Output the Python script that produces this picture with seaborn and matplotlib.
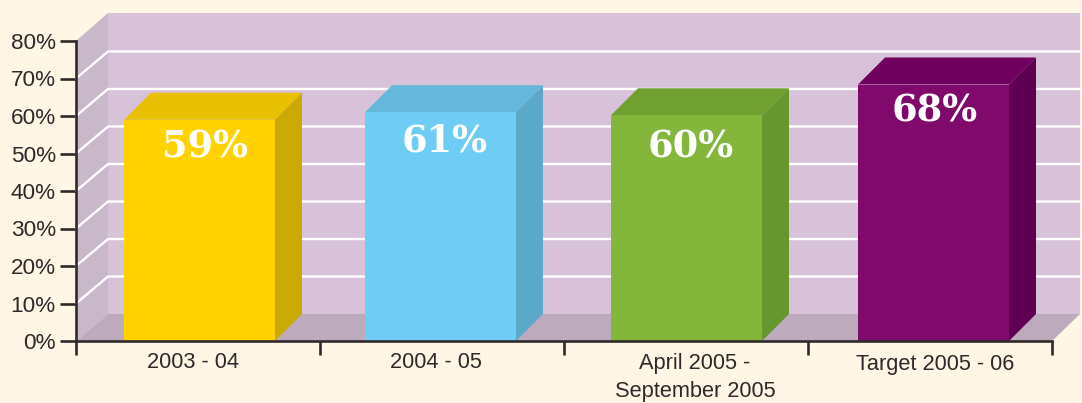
import pandas as pd
import seaborn as sns
import matplotlib.pyplot as plt
from matplotlib.patches import Polygon

# Werte
perioden = ["2003 - 04", "2004 - 05", "April 2005 -\nSeptember 2005", "Target 2005 - 06"]
werte = [59, 61, 60, 68]
balken_hoehen = [59.0, 61.0, 60.2, 68.4]
y_ticks = [0, 10, 20, 30, 40, 50, 60, 70, 80]

farben_vorne = ["#ffd200", "#6fcdf5", "#83b63a", "#7f0a6c"]
farben_oben = ["#e8c104", "#66b7dc", "#70a030", "#6f005d"]
farben_seite = ["#ccaa05", "#5ca8c8", "#66962e", "#5e0051"]

hintergrund = "#fff6e5"
dunkel = "#2e2a2b"

sns.set_style("ticks")
plt.rcParams["font.family"] = ["Liberation Sans", "DejaVu Sans"]

B, H = 1082, 403
links, rechts, unten, oben = 76, 1052, 341, 41
px_x = 244  # Pixel je Kategorie
px_y = 3.75  # Pixel je Prozentpunkt


# Pixel im Bild nach Datenkoordinaten
def dx(p):
    return (p - links) / px_x - 0.5


def dy(p):
    return (unten - p) / px_y


fig = plt.figure(figsize=(B / 100, H / 100), dpi=100, facecolor=hintergrund)
ax = fig.add_axes([links / B, 1 - unten / H, (rechts - links) / B, (unten - oben) / H])
ax.set_facecolor("none")

df = pd.DataFrame({"Periode": perioden, "Hoehe": balken_hoehen})
sns.barplot(data=df, x="Periode", y="Hoehe", hue="Periode", palette=farben_vorne,
            width=151 / px_x, legend=False, saturation=1, linewidth=0, zorder=4, ax=ax)
ax.set_xlim(-0.5, 3.5)
ax.set_ylim(0, 80)

# Raum: Seitenwand, Rueckwand, Boden
raum = [
    ([(76, 341), (108, 314), (108, 13), (76, 41)], "#c9b7ca"),
    ([(108, 314), (1080, 314), (1080, 13), (108, 13)], "#d7c2d9"),
    ([(76, 341), (108, 314), (1080, 314), (1052, 341)], "#bdaabd"),
]
for punkte, farbe in raum:
    ax.add_patch(Polygon([(dx(x), dy(y)) for x, y in punkte], closed=True, facecolor=farbe,
                         edgecolor="none", clip_on=False, zorder=0))

# Gitterlinien auf Rueck- und Seitenwand
for t in y_ticks[1:-1]:
    ax.plot([dx(76), dx(108), dx(1080)], [t, t + 27 / px_y, t + 27 / px_y], color="white",
            lw=1.7, clip_on=False, zorder=1, solid_joinstyle="miter")

# 3D-Flaechen der Balken
tiefe_x = 27 / px_x
tiefe_y = 27 / px_y
balken_mitten = [199.5, 440.5, 686.5, 933.5]
for i, balken in enumerate(ax.patches[:len(perioden)]):
    balken.set_x(dx(balken_mitten[i]) - balken.get_width() / 2)
    x0 = balken.get_x()
    x1 = x0 + balken.get_width()
    h = balken.get_height()
    ax.add_patch(Polygon([(x0, h), (x1, h), (x1 + tiefe_x, h + tiefe_y), (x0 + tiefe_x, h + tiefe_y)],
                         closed=True, facecolor=farben_oben[i], edgecolor="none", zorder=3))
    ax.add_patch(Polygon([(x1, 0), (x1 + tiefe_x, tiefe_y), (x1 + tiefe_x, h + tiefe_y), (x1, h)],
                         closed=True, facecolor=farben_seite[i], edgecolor="none", zorder=3))

# Prozentwerte auf den Balken
wert_pos = [(205, 147), (445, 141), (691, 147), (935, 111)]
for w, (x, y) in zip(werte, wert_pos):
    ax.text(dx(x), dy(y), f"{w}%", color="white", fontsize=26.5, fontweight="bold",
            family="DejaVu Serif", ha="center", va="center", zorder=6)

# Achsen
ax.set_xticks([k - 0.5 for k in range(5)])
ax.set_xticklabels([])
ax.set_yticks(y_ticks)
ax.set_yticklabels([f"{t}%" for t in y_ticks], fontsize=16.2, color=dunkel)
ax.tick_params(axis="y", length=11.5, width=1.9, color=dunkel, pad=3)
ax.tick_params(axis="x", length=10, width=1.9, color=dunkel)
ax.set_xlabel("")
ax.set_ylabel("")
sns.despine(ax=ax)
for seite in ["left", "bottom"]:
    ax.spines[seite].set_linewidth(1.9)
    ax.spines[seite].set_color(dunkel)
    ax.spines[seite].set_zorder(7)

# Kategorienbeschriftung
label_pos = [193, 436, 695, 935]
label_oben = [352, 352, 353, 354]
for text, x, y in zip(perioden, label_pos, label_oben):
    ax.text(dx(x), dy(y), text, fontsize=15.7, color=dunkel, ha="center", va="top",
            linespacing=1.42, clip_on=False)

fig.savefig("out.png", dpi=100, facecolor=hintergrund)
